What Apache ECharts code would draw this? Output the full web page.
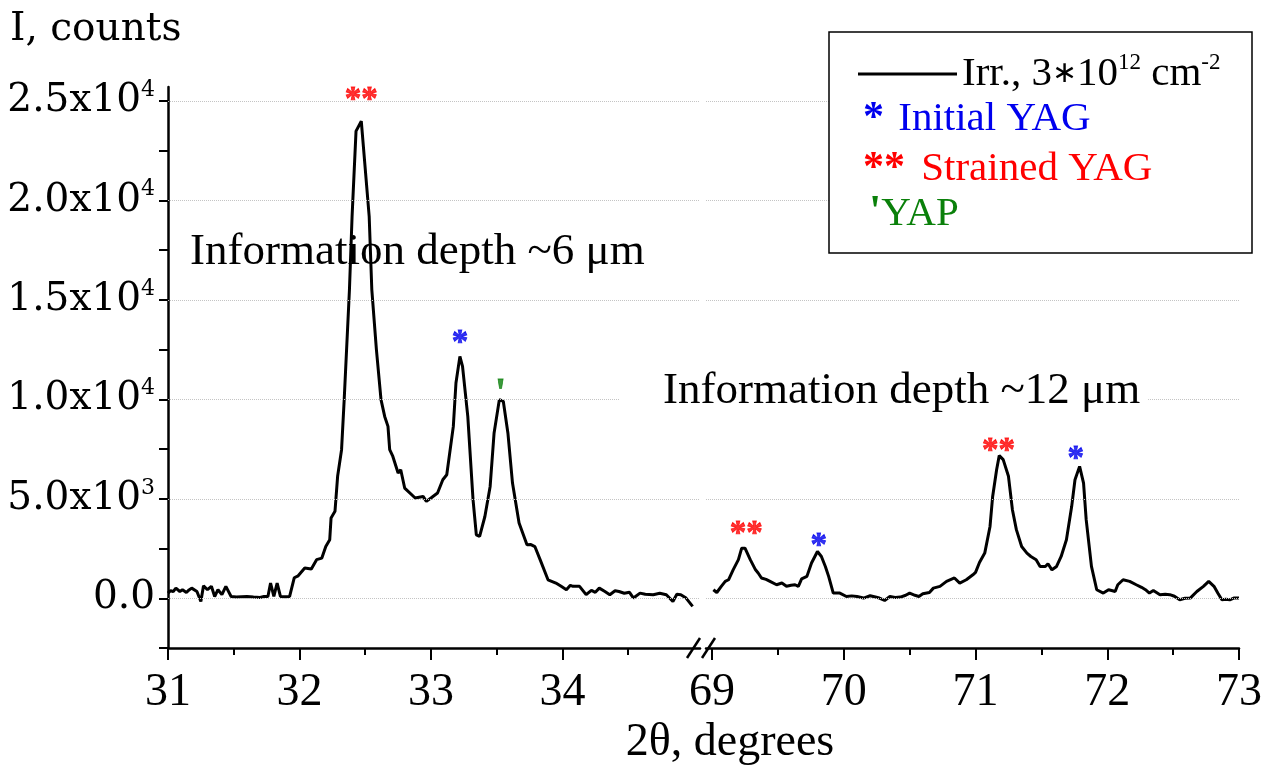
<!DOCTYPE html>
<html>
<head>
<meta charset="utf-8">
<title>XRD pattern, broken 2theta axis</title>
<script src="https://cdn.jsdelivr.net/npm/echarts@6.0.0/dist/echarts.min.js"></script>
<style>
  html, body { margin: 0; padding: 0; background: #fff; }
  #chart { width: 1280px; height: 772px; }
</style>
</head>
<body>
<div id="chart"></div>
<script>
// --- data ---
// left piece of the broken axis (2theta 31..35)
const xLeft = [31.00, 31.02, 31.04, 31.06, 31.09, 31.11, 31.14, 31.16, 31.18, 31.22, 31.25, 31.27, 31.30, 31.33, 31.355, 31.38, 31.41, 31.44, 31.48, 31.52, 31.56, 31.60, 31.65, 31.70, 31.73, 31.76, 31.78, 31.805, 31.83, 31.855, 31.89, 31.925,
  31.96, 31.99, 32.04, 32.09, 32.13, 32.17, 32.20, 32.23, 32.24, 32.27, 32.29, 32.32, 32.34, 32.38, 32.40, 32.43, 32.47, 32.48, 32.53, 32.55, 32.585, 32.62, 32.648, 32.673, 32.686,
  32.71, 32.75, 32.77, 32.80, 32.88, 32.94, 32.965, 33.00, 33.05, 33.09, 33.12, 33.17, 33.19, 33.22, 33.24, 33.28, 33.32, 33.345, 33.37, 33.41, 33.45, 33.48, 33.52, 33.55, 33.585, 33.62, 33.67,
  33.73, 33.76, 33.79, 33.83, 33.89, 33.95, 33.99, 34.03, 34.06, 34.08, 34.13, 34.18, 34.22, 34.25, 34.28, 34.32, 34.36, 34.40, 34.43, 34.47, 34.51, 34.54, 34.59, 34.63, 34.69, 34.74, 34.79, 34.84, 34.87, 34.90, 34.94, 34.99];
const yLeft = [260, 380, 340, 510, 340, 430, 290, 420, 510, 340, -160, 630, 430, 600, 90, 430, 180, 600, 90, 60, 80, 90, 60, 40, 90, 90, 765, 90, 765, 90, 80, 90,
  1030, 1130, 1520, 1470, 1940, 2020, 2600, 2940, 4030, 4370, 6130, 7470, 9985, 15520, 19200, 23480, 23980, 23900, 19200, 15520, 12500, 9985, 9140, 8640, 7470,
  7130, 6300, 6460, 5540, 5040, 5120, 4870, 5040, 5290, 5960, 6210, 8640, 10820, 12160, 11660, 9140, 4950, 3190, 3110, 4110, 5620, 8310, 9985, 9900, 8310, 5790, 3780,
  2690, 2700, 2600, 1940, 930, 765, 600, 430, 650, 600, 600, 180, 400, 300, 510, 350, 180, 380, 340, 250, 300, 10, 260, 200, 180, 250, 180, -160, 200, 180, 10, -410];

// right piece (2theta 69..73)
const xRight = [69.01, 69.036, 69.07, 69.10, 69.125, 69.16, 69.20, 69.225, 69.25, 69.29, 69.33, 69.35, 69.375, 69.41, 69.44, 69.49, 69.53, 69.565, 69.60, 69.63, 69.655, 69.68, 69.72, 69.755, 69.80, 69.83, 69.86, 69.885, 69.92, 69.97,
  70.02, 70.06, 70.10, 70.15, 70.20, 70.24, 70.27, 70.31, 70.35, 70.39, 70.43, 70.47, 70.50, 70.54, 70.57, 70.60, 70.65, 70.68, 70.73, 70.78, 70.84, 70.88, 70.93, 70.98,
  71.00, 71.03, 71.07, 71.11, 71.13, 71.16, 71.18, 71.21, 71.25, 71.28, 71.31, 71.35, 71.39, 71.42, 71.46, 71.49, 71.53, 71.55, 71.58, 71.615, 71.65, 71.69, 71.73, 71.755, 71.79, 71.82, 71.84, 71.88, 71.92, 71.97,
  72.01, 72.04, 72.06, 72.08, 72.12, 72.17, 72.22, 72.26, 72.29, 72.32, 72.35, 72.40, 72.44, 72.475, 72.51, 72.55, 72.59, 72.63, 72.68, 72.73, 72.77, 72.81, 72.84, 72.87, 72.90, 72.93, 72.96, 73.00];
const yRight = [430, 290, 600, 850, 930, 1430, 1940, 2520, 2520, 1940, 1430, 1270, 1020, 950, 850, 680, 765, 600, 650, 680, 600, 970, 1100, 1770, 2350, 2100, 1600, 1100, 260, 260,
  90, 120, 90, 10, 125, 60, 10, -110, 90, 40, 60, 150, 260, 150, 90, 225, 290, 510, 600, 850, 1020, 765, 930, 1180,
  1300, 1800, 2270, 3610, 5120, 6460, 7170, 6970, 6130, 4450, 3450, 2600, 2270, 2100, 1940, 1600, 1600, 1735, 1430, 1600, 2100, 2940, 4620, 5960, 6630, 5790, 3950, 1600, 430, 260,
  430, 380, 340, 680, 930, 850, 680, 550, 430, 260, 390, 180, 200, 180, 100, -75, 0, 10, 340, 600, 850, 600, 250, -75, -50, -75, 10, 10];

// peak markers: * initial YAG, ** strained YAG, ' YAP
const markX = [32.47, 33.22, 33.53, 69.26, 69.81, 71.175, 71.76];
const markY = [25450, 13200, 10640, 3620, 3000, 7770, 7370];
const markText = ['**', '*', "'", '**', '*', '**', '*'];

// ticks
const yTicks = [-2500, 0, 2500, 5000, 7500, 10000, 12500, 15000, 17500, 20000, 22500, 25000];
const yLabelTicks = [0, 5000, 10000, 15000, 20000, 25000];
const yLabelMain = ['0.0', '5.0x10', '1.0x10', '1.5x10', '2.0x10', '2.5x10'];
const yLabelPow = ['', '3', '4', '4', '4', '4'];
const xLeftMajor = [31, 32, 33, 34];
const xLeftMinor = [31.5, 32.5, 33.5, 34.5];
const xRightMajor = [69, 70, 71, 72, 73];
const xRightMinor = [69.5, 70.5, 71.5, 72.5];

const seriesName = 'Irr., 3∗10¹² cm⁻²';

const RED = '#ff0000', BLUE = '#0000ee', GREEN = '#0a800a';
const SERIF = 'Liberation Serif';
const markColor = { '**': RED, '*': BLUE, "'": GREEN };

const chart = echarts.init(document.getElementById('chart'));

function pairs(xs, ys) {
  return xs.map((x, i) => [x, ys[i]]);
}

function marks(fromX, toX) {
  const out = [];
  markX.forEach((x, i) => {
    if (x < fromX || x > toX) return;
    const t = markText[i];
    const c = markColor[t];
    out.push({
      name: t,
      value: [x, markY[i]],
      label: { color: c, textBorderColor: c, textBorderWidth: 0.8, fontSize: t === "'" ? 40 : 33 }
    });
  });
  return out;
}

const gridLines = {
  silent: true,
  symbol: ['none', 'none'],
  label: { show: false },
  lineStyle: { type: 'dotted', color: '#c4c4c4', width: 1 },
  data: yLabelTicks.map(v => ({ yAxis: v }))
};

function xAxisPair(grid, min, max, major, minor) {
  return [
    {
      type: 'value', gridIndex: grid, position: 'bottom', min: min, max: max,
      axisLine: { onZero: false, lineStyle: { color: '#000', width: 2.5 } },
      axisTick: { customValues: major, length: 12, lineStyle: { color: '#000', width: 2 } },
      axisLabel: {
        customValues: major, margin: 22, color: '#000',
        fontFamily: SERIF, fontSize: 46, lineHeight: 46,
        formatter: v => String(v)
      },
      splitLine: { show: false }
    },
    {
      type: 'value', gridIndex: grid, position: 'bottom', min: min, max: max,
      axisLine: { show: false, onZero: false },
      axisTick: { customValues: minor, length: 7, lineStyle: { color: '#000', width: 2 } },
      axisLabel: { show: false },
      splitLine: { show: false }
    }
  ];
}

const markSeries = (xi, yi, from, to) => ({
  name: 'peaks', type: 'scatter', xAxisIndex: xi, yAxisIndex: yi,
  symbolSize: 1, itemStyle: { color: 'rgba(0,0,0,0)' }, silent: true, z: 4,
  label: { show: true, position: 'inside', formatter: '{b}', fontFamily: SERIF, fontWeight: 'bold' },
  labelLayout: { hideOverlap: false, dy: 8 },
  data: marks(from, to)
});

const option = {
  animation: false,
  backgroundColor: '#fff',
  textStyle: { fontFamily: SERIF },
  grid: [
    { left: 168, top: 87, width: 532, height: 561, outerBoundsMode: 'none' },
    { left: 706, top: 87, width: 533, height: 561, outerBoundsMode: 'none' }
  ],
  xAxis: [].concat(
    xAxisPair(0, 31, 35.046, xLeftMajor, xLeftMinor),
    xAxisPair(1, 68.954, 73, xRightMajor, xRightMinor)
  ),
  yAxis: [
    {
      type: 'value', gridIndex: 0, min: -2500, max: 25700,
      axisLine: { show: true, onZero: false, lineStyle: { color: '#000', width: 2.5 } },
      axisTick: { customValues: yTicks, length: 9, lineStyle: { color: '#000', width: 2 } },
      axisLabel: {
        customValues: yLabelTicks, margin: 13,
        formatter: function (v) {
          const i = yLabelTicks.indexOf(v);
          if (i < 0) return '';
          return yLabelPow[i] ? '{m|' + yLabelMain[i] + '}{p|' + yLabelPow[i] + '}' : '{m|' + yLabelMain[i] + '}';
        },
        rich: {
          m: { fontFamily: 'DejaVu Serif', fontSize: 39, lineHeight: 44, color: '#000' },
          p: { fontFamily: 'DejaVu Serif', fontSize: 22, lineHeight: 22, verticalAlign: 'top', color: '#000' }
        }
      },
      splitLine: { show: false }
    },
    { type: 'value', gridIndex: 1, min: -2500, max: 25700, show: false, splitLine: { show: false } }
  ],
  legend: {
    data: [{ name: seriesName, icon: 'rect' }],
    left: 858, top: 51, padding: 0, z: 20,
    itemWidth: 99, itemHeight: 3,
    itemStyle: { color: '#000' },
    selectedMode: false,
    textStyle: {
      fontFamily: SERIF, fontSize: 41, color: '#000',
      rich: {
        t: { fontFamily: SERIF, fontSize: 41, lineHeight: 46, color: '#000' },
        a: { fontFamily: SERIF, fontSize: 30, lineHeight: 46, color: '#000' },
        s: { fontFamily: SERIF, fontSize: 23, lineHeight: 22, verticalAlign: 'top', color: '#000' }
      }
    },
    formatter: () => '{t|Irr., 3}{a|∗}{t|10}{s|12}{t| cm}{s|-2}'
  },
  series: [
    {
      name: seriesName, type: 'line', xAxisIndex: 0, yAxisIndex: 0,
      symbol: 'none', lineStyle: { color: '#000', width: 3 }, itemStyle: { color: '#000' },
      data: pairs(xLeft, yLeft), markLine: gridLines
    },
    {
      name: seriesName, type: 'line', xAxisIndex: 2, yAxisIndex: 1,
      symbol: 'none', lineStyle: { color: '#000', width: 3 }, itemStyle: { color: '#000' },
      data: pairs(xRight, yRight), markLine: gridLines
    },
    markSeries(0, 0, 30, 40),
    markSeries(2, 1, 60, 80)
  ],
  graphic: [
    // legend frame
    { type: 'rect', z: 10, shape: { x: 829, y: 32, width: 423, height: 221 },
      style: { fill: '#fff', stroke: '#000', lineWidth: 1.5 } },
    { type: 'text', z: 21, x: 863, y: 119.5, style: {
        text: '{a|*}{b| Initial YAG}', align: 'left', verticalAlign: 'middle',
        rich: { a: { font: 'bold 42px Liberation Serif', fill: BLUE, width: 25 },
                b: { font: '41px Liberation Serif', fill: BLUE } } } },
    { type: 'text', z: 21, x: 863, y: 169.5, style: {
        text: '{a|**}{b| Strained YAG}', align: 'left', verticalAlign: 'middle',
        rich: { a: { font: 'bold 42px Liberation Serif', fill: RED, width: 48 },
                b: { font: '41px Liberation Serif', fill: RED } } } },
    { type: 'text', z: 21, x: 869, y: 214, style: {
        text: "{a|'}{b|YAP}", align: 'left', verticalAlign: 'middle',
        rich: { a: { font: 'bold 44px Liberation Serif', fill: GREEN },
                b: { font: '41px Liberation Serif', fill: GREEN } } } },
    // annotations
    { type: 'text', z: 21, x: 190, y: 252, style: {
        text: 'Information depth ~6 μm', font: '45px Liberation Serif', fill: '#000',
        align: 'left', verticalAlign: 'middle' } },
    { type: 'text', z: 21, x: 620, y: 391, style: {
        text: 'Information depth ~12 μm', font: '45px Liberation Serif', fill: '#000',
        align: 'left', verticalAlign: 'middle', backgroundColor: '#fff', padding: [2, 8, 2, 43] } },
    // axis names
    { type: 'text', z: 21, x: 10, y: 30, style: {
        text: 'I, counts', font: '39px DejaVu Serif', fill: '#000', align: 'left', verticalAlign: 'middle' } },
    { type: 'text', z: 21, x: 730, y: 743, style: {
        text: '2θ, degrees', font: '46px Liberation Serif', fill: '#000', align: 'center', verticalAlign: 'middle' } },
    // axis break marks
    { type: 'line', z: 21, shape: { x1: 687, y1: 658, x2: 700, y2: 638 }, style: { stroke: '#000', lineWidth: 2.5 } },
    { type: 'line', z: 21, shape: { x1: 702, y1: 658, x2: 715, y2: 638 }, style: { stroke: '#000', lineWidth: 2.5 } }
  ]
};

chart.setOption(option);
</script>
</body>
</html>
